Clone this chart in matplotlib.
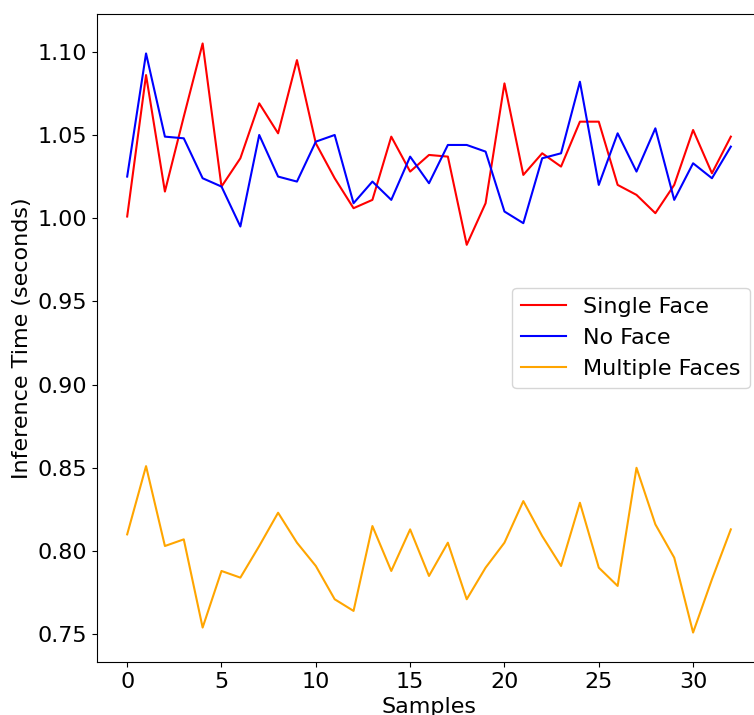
import matplotlib
matplotlib.use("Agg")
import matplotlib.pyplot as plt

samples = list(range(33))

single_face = [1.001, 1.086, 1.016, 1.061, 1.105, 1.019, 1.036, 1.069, 1.051, 1.095,
               1.045, 1.024, 1.006, 1.011, 1.049, 1.028, 1.038, 1.037, 0.984, 1.009,
               1.081, 1.026, 1.039, 1.031, 1.058, 1.058, 1.020, 1.014, 1.003, 1.020,
               1.053, 1.027, 1.049]

no_face = [1.025, 1.099, 1.049, 1.048, 1.024, 1.019, 0.995, 1.050, 1.025, 1.022,
           1.046, 1.050, 1.009, 1.022, 1.011, 1.037, 1.021, 1.044, 1.044, 1.040,
           1.004, 0.997, 1.036, 1.039, 1.082, 1.020, 1.051, 1.028, 1.054, 1.011,
           1.033, 1.024, 1.043]

multiple_faces = [0.810, 0.851, 0.803, 0.807, 0.754, 0.788, 0.784, 0.803, 0.823, 0.805,
                  0.791, 0.771, 0.764, 0.815, 0.788, 0.813, 0.785, 0.805, 0.771, 0.790,
                  0.805, 0.830, 0.809, 0.791, 0.829, 0.790, 0.779, 0.850, 0.816, 0.796,
                  0.751, 0.783, 0.813]

fig = plt.figure(figsize=(7.54, 7.15), dpi=100)
ax = fig.add_axes([97 / 754, 53 / 715, 664 / 754, 648 / 715])

ax.plot(samples, single_face, color='red', label='Single Face')
ax.plot(samples, no_face, color='blue', label='No Face')
ax.plot(samples, multiple_faces, color='orange', label='Multiple Faces')

ax.set_xlabel('Samples', fontsize=16)
ax.set_ylabel('Inference Time (seconds)', fontsize=16)
ax.tick_params(labelsize=16)
ax.legend(loc='center right', fontsize=16)

fig.savefig('out.png', dpi=100)
